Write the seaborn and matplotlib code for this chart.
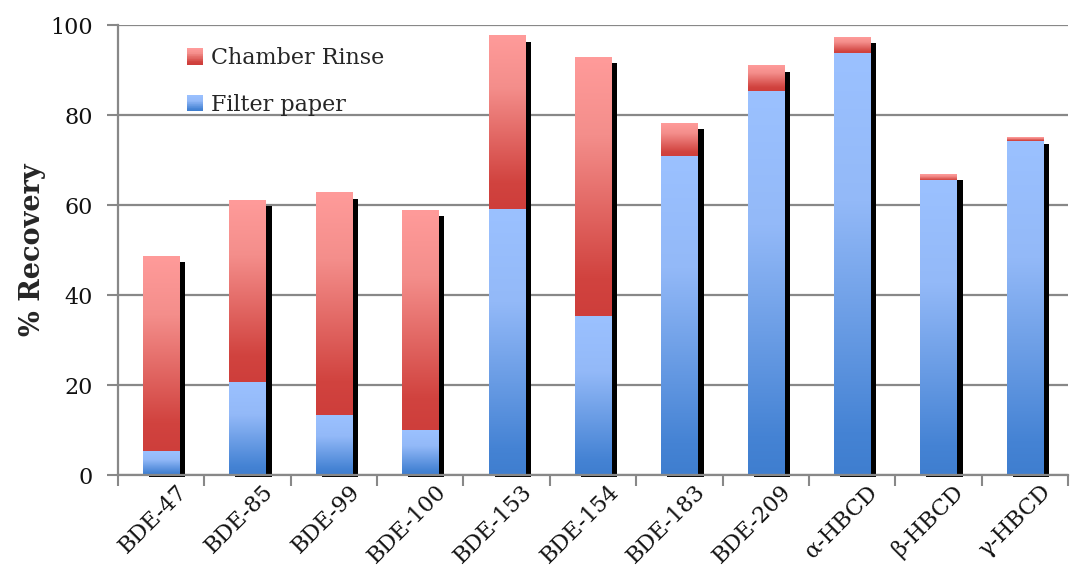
import numpy as np
import pandas as pd
import matplotlib
matplotlib.use("Agg")
import matplotlib.pyplot as plt
import seaborn as sns
from matplotlib.colors import LinearSegmentedColormap
from matplotlib.patches import Rectangle
from matplotlib.legend_handler import HandlerBase
from matplotlib.transforms import ScaledTranslation

# Recovery of flame retardants (%)
compounds = ["BDE-47", "BDE-85", "BDE-99", "BDE-100", "BDE-153", "BDE-154",
             "BDE-183", "BDE-209", "α-HBCD", "β-HBCD", "γ-HBCD"]
filter_paper = [5.2, 20.5, 13.3, 9.8, 59.1, 35.2, 70.7, 85.3, 93.6, 65.4, 74.2]
chamber_rinse = [43.4, 40.6, 49.4, 49.1, 38.5, 57.7, 7.5, 5.6, 3.7, 1.5, 0.7]
y_ticks = [0, 20, 40, 60, 80, 100]

df = pd.DataFrame({"compound": compounds,
                   "filter": filter_paper,
                   "rinse": chamber_rinse})
df["total"] = df["filter"] + df["rinse"]

sns.set_theme(style="white")
plt.rcParams["font.family"] = ["DejaVu Serif"]

red_cmap = LinearSegmentedColormap.from_list(
    "rinse", [(0.0, "#FF9B9A"), (0.3, "#F48E8B"), (0.85, "#D1433F"), (1.0, "#CE3E3B")])
blue_cmap = LinearSegmentedColormap.from_list(
    "paper", [(0.0, "#9BC1FF"), (0.35, "#93B9F8"), (0.9, "#4583D4"), (1.0, "#3F7ECF")])

DPI = 100
fig = plt.figure(figsize=(10.70, 5.78), dpi=DPI)
ax = fig.add_axes([118 / 1070, 1 - 475 / 578, 950 / 1070, 450 / 578])

bar_w = 0.42
sns.barplot(data=df, x="compound", y="total", color="#D1433F", width=bar_w,
            ax=ax, zorder=2, errorbar=None)
sns.barplot(data=df, x="compound", y="filter", color="#4583D4", width=bar_w,
            ax=ax, zorder=2, errorbar=None)

n = len(compounds)
rinse_patches = ax.patches[:n]
paper_patches = ax.patches[n:2 * n]

# drop shadow: 6 px right, bottom 2 px below the baseline, top 6 px below the bar top
shadow_shift = ax.transData + ScaledTranslation(6 / DPI, -2 / DPI, fig.dpi_scale_trans)
px_per_unit = 450 / 100

grad = np.linspace(0, 1, 256).reshape(-1, 1)


def gradient_fill(patch, bottom, top, cmap, z):
    x0 = patch.get_x()
    x1 = x0 + patch.get_width()
    patch.set_visible(False)
    if top - bottom <= 0:
        return
    ax.imshow(grad, cmap=cmap, extent=[x0, x1, bottom, top], origin="upper",
              aspect="auto", interpolation="bilinear", zorder=z)


for p, f, t in zip(rinse_patches, df["filter"], df["total"]):
    ax.add_patch(Rectangle((p.get_x(), 0), p.get_width(), t - 4 / px_per_unit,
                           transform=shadow_shift, facecolor="black",
                           edgecolor="none", zorder=1.5, clip_on=False))
    gradient_fill(p, f, t, red_cmap, 2)

for p, f in zip(paper_patches, df["filter"]):
    gradient_fill(p, 0, f, blue_cmap, 2.1)

ax.set_xlim(-0.5, n - 0.5)
ax.set_ylim(0, 100)
ax.set_yticks(y_ticks)
ax.set_yticklabels([str(v) for v in y_ticks], fontsize=16, color="#111111")

# category labels sit slightly right of the bar centre, ending near the bar's right edge
label_offset = 0.17
ax.set_xticks(np.arange(n) + label_offset)
ax.set_xticklabels(compounds, fontsize=16, rotation=45, ha="right",
                   rotation_mode="anchor", color="#111111")
ax.set_xticks(np.arange(-0.5, n, 1.0), minor=True)

ax.tick_params(axis="x", which="major", length=0, pad=4)
ax.tick_params(axis="x", which="minor", length=8, width=1.5, color="#888888",
               direction="out", bottom=True)
ax.tick_params(axis="y", which="major", length=8, width=1.5, color="#888888",
               direction="out", left=True, pad=10)

ax.set_xlabel("")
ax.set_ylabel("% Recovery", fontsize=19.5, fontweight="bold")
ax.yaxis.set_label_coords((46 - 118) / 950, 0.5)

ax.set_axisbelow(True)
ax.yaxis.grid(True, color="#888888", linewidth=1.6)
ax.xaxis.grid(False)
for side in ["top", "right"]:
    ax.spines[side].set_visible(False)
for side in ["left", "bottom"]:
    ax.spines[side].set_color("#888888")
    ax.spines[side].set_linewidth(1.6)


class GradientSquare(HandlerBase):
    def __init__(self, cmap):
        super().__init__()
        self.cmap = cmap

    def create_artists(self, legend, orig_handle, xdescent, ydescent,
                       width, height, fontsize, trans):
        size = min(width, height)
        x0 = -xdescent + (width - size) / 2
        y0 = -ydescent + (height - size) / 2
        strips = 24
        arts = []
        for i in range(strips):
            h = size / strips
            arts.append(Rectangle((x0, y0 + size - (i + 1) * h), size, h * 1.05,
                                  facecolor=self.cmap(i / (strips - 1)),
                                  edgecolor="none", transform=trans))
        return arts


h_rinse = Rectangle((0, 0), 1, 1)
h_paper = Rectangle((0, 0), 1, 1)
leg = ax.legend([h_rinse, h_paper], ["Chamber Rinse", "Filter paper"],
                handler_map={h_rinse: GradientSquare(red_cmap),
                             h_paper: GradientSquare(blue_cmap)},
                loc="upper left", bbox_to_anchor=(0.051, 0.995), frameon=False,
                fontsize=16, handlelength=0.75, handleheight=0.75,
                handletextpad=0.35, labelspacing=1.1)

fig.savefig("out.png", dpi=DPI)
